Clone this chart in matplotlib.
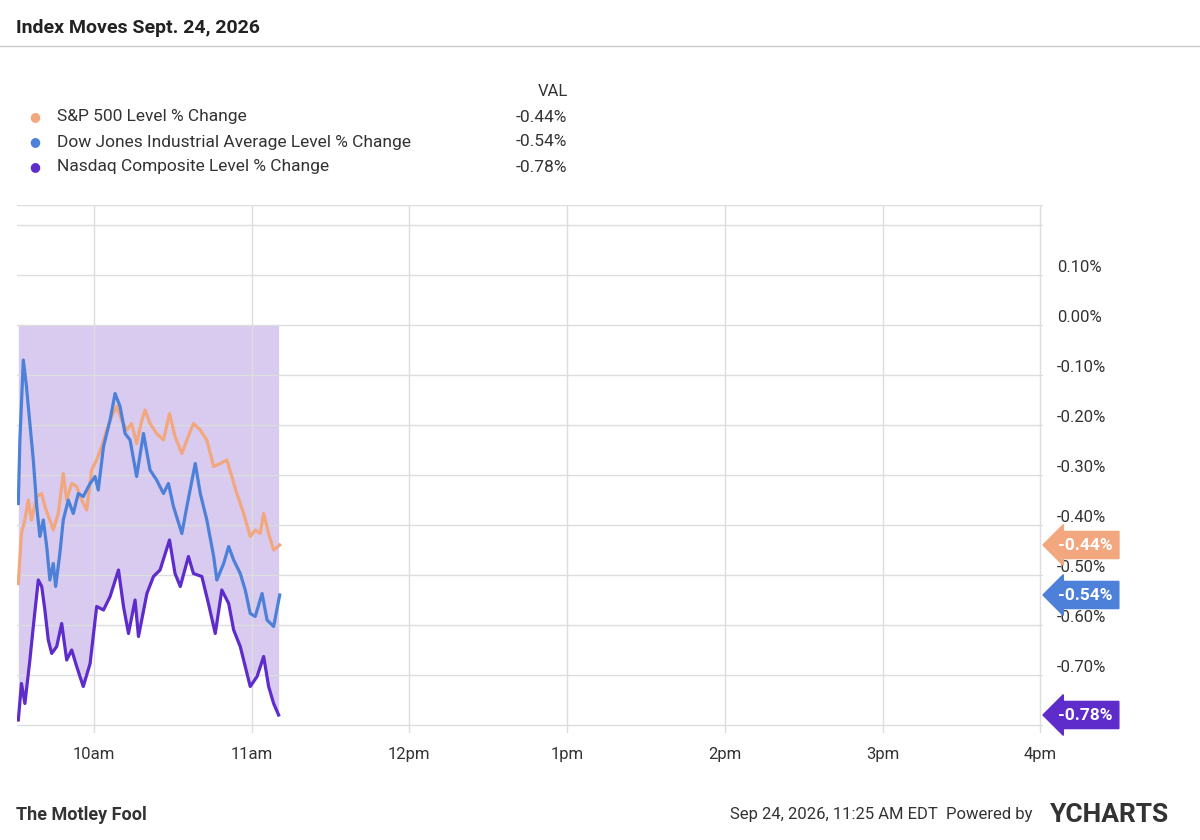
import matplotlib
matplotlib.use("Agg")
import matplotlib.pyplot as plt
import matplotlib.transforms as mtrans

plt.rcParams['font.family'] = ['Roboto', 'DejaVu Sans']

sp_t = [1.3,2.5,3.8,5.1,6.3,8.3,10.2,11.4,13.3,14.6,16.5,18.4,19.7,21.6,23.5,25.4,27.3,29.2,31.1,33.0,34.9,36.8,38.7,40.6,42.5,44.4,46.3,48.3,49.5,51.4,53.9,56.5,58.8,60.9,63.5,65.4,67.9,70.5,73.0,75.6,78.1,80.6,82.5,84.4,87.0,89.5,91.4,93.3,94.6,96.5,98.4,100.7]
sp_v = [-0.517,-0.417,-0.39,-0.35,-0.39,-0.343,-0.337,-0.363,-0.39,-0.41,-0.377,-0.297,-0.35,-0.317,-0.323,-0.35,-0.37,-0.29,-0.27,-0.243,-0.21,-0.183,-0.163,-0.19,-0.21,-0.197,-0.237,-0.19,-0.17,-0.197,-0.217,-0.23,-0.177,-0.223,-0.257,-0.23,-0.197,-0.21,-0.23,-0.283,-0.277,-0.27,-0.303,-0.337,-0.377,-0.423,-0.41,-0.417,-0.377,-0.417,-0.45,-0.44]
dow_t = [1.3,1.9,3.2,4.4,5.7,7.0,8.3,9.5,10.8,12.1,13.3,14.6,15.5,17.1,18.4,20.3,22.2,24.1,26.0,28.6,30.5,31.7,33.7,36.2,38.1,40.0,41.9,43.8,46.3,48.9,51.4,53.9,56.5,58.4,60.3,63.5,65.4,68.6,70.5,73.0,75.6,76.8,79.4,81.3,83.2,85.7,87.6,89.5,91.4,94.0,95.9,98.4,100.7]
dow_v = [-0.357,-0.23,-0.07,-0.123,-0.197,-0.27,-0.363,-0.423,-0.39,-0.443,-0.51,-0.477,-0.523,-0.457,-0.39,-0.35,-0.377,-0.337,-0.343,-0.317,-0.303,-0.33,-0.243,-0.19,-0.137,-0.163,-0.217,-0.23,-0.303,-0.217,-0.29,-0.31,-0.337,-0.317,-0.363,-0.417,-0.363,-0.277,-0.337,-0.39,-0.463,-0.51,-0.477,-0.443,-0.47,-0.497,-0.53,-0.577,-0.583,-0.537,-0.59,-0.603,-0.54]
nas_t = [1.3,2.5,3.8,5.7,7.0,8.9,10.2,11.4,12.7,14.0,15.9,17.8,19.7,21.6,23.5,26.0,28.6,31.1,33.7,36.2,39.4,41.3,43.2,45.7,47.0,50.2,52.7,55.2,58.8,60.9,62.9,66.0,67.9,71.1,73.6,76.2,78.7,81.3,83.2,85.7,89.5,92.1,94.6,96.5,98.4,100.3]
nas_v = [-0.79,-0.717,-0.757,-0.67,-0.603,-0.51,-0.523,-0.57,-0.63,-0.657,-0.643,-0.597,-0.67,-0.65,-0.683,-0.723,-0.677,-0.563,-0.57,-0.543,-0.49,-0.563,-0.617,-0.55,-0.623,-0.537,-0.503,-0.49,-0.43,-0.497,-0.523,-0.463,-0.497,-0.503,-0.557,-0.617,-0.53,-0.557,-0.61,-0.643,-0.723,-0.703,-0.663,-0.723,-0.757,-0.78]

names = ["S&P 500 Level % Change", "Dow Jones Industrial Average Level % Change", "Nasdaq Composite Level % Change"]
last_vals = ["-0.44%", "-0.54%", "-0.78%"]
last_nums = [-0.44, -0.54, -0.78]
colors = ["#f2a77f", "#4d80d8", "#5e2ccb"]
xtick_pos = [30, 90, 150, 210, 270, 330, 390]
xtick_lab = ["10am", "11am", "12pm", "1pm", "2pm", "3pm", "4pm"]
yticks = [0.1, 0.0, -0.1, -0.2, -0.3, -0.4, -0.5, -0.6, -0.7]

fig = plt.figure(figsize=(12, 8.4), dpi=100)
ax = fig.add_axes([17/1200, 1-733/840, (1043-17)/1200, (733-205)/840])
ax.set_xlim(0.8, 391)
ax.set_ylim(-0.816, 0.24)

ax.fill_between(nas_t, 0, nas_v, color="#d8cbef", lw=0, zorder=1)
ax.plot(sp_t, sp_v, color=colors[0], lw=2.3, zorder=3)
ax.plot(dow_t, dow_v, color=colors[1], lw=2.3, zorder=4)
ax.plot(nas_t, nas_v, color=colors[2], lw=2.3, zorder=5)

ax.set_xticks(xtick_pos)
ax.set_xticklabels(xtick_lab, fontsize=12, color="#333333")
ax.set_yticks([0.2] + yticks + [-0.8])
ax.set_yticklabels([""] + [f"{v:.2f}%" for v in yticks] + [""], fontsize=12, color="#333333")
ax.yaxis.tick_right()
ax.tick_params(length=0, pad=10)
off = mtrans.ScaledTranslation(0, 9/100, fig.dpi_scale_trans)
for lab in ax.get_yticklabels():
    lab.set_transform(lab.get_transform() + off)
ax.grid(True, color="#dddddd", lw=1, zorder=0)
for s in ["top", "left", "bottom", "right"]:
    ax.spines[s].set_visible(False)
ax.axhline(0.24, color="#dddddd", lw=1)

for v, lab, c in zip(last_nums, last_vals, colors):
    ax.annotate(lab, xy=(1.0, v), xycoords=("axes fraction", "data"), xytext=(11, 0),
                textcoords="offset points", va="center", ha="left", fontsize=12.5,
                color="white", fontweight="bold",
                bbox=dict(boxstyle="larrow,pad=0.35", fc=c, ec=c), annotation_clip=False)

fig.text(16/1200, 1-28/840, "Index Moves Sept. 24, 2026", fontsize=14, fontweight="bold", color="#222222", va="center")
fig.add_artist(plt.Line2D([0, 1], [1-46/840, 1-46/840], color="#cccccc", lw=1))
fig.text(538/1200, 1-92/840, "VAL", fontsize=12, color="#333333", va="center")
for i, (n, lv, c) in enumerate(zip(names, last_vals, colors)):
    y = 1 - (117 + 25*i)/840
    fig.text(35/1200, y, "●", fontsize=9, color=c, va="center", ha="center")
    fig.text(57/1200, y, n, fontsize=12.5, color="#333333", va="center")
    fig.text(516/1200, y, lv, fontsize=12.5, color="#333333", va="center")

fig.text(16/1200, 1-815/840, "The Motley Fool", fontsize=13, fontweight="bold", color="#333333", va="center")
fig.text(730/1200, 1-815/840, "Sep 24, 2026, 11:25 AM EDT  Powered by", fontsize=12, color="#333333", va="center")
fig.text(1050/1200, 1-815/840, "YCHARTS", fontsize=19, fontweight="bold", color="#333333", va="center")

fig.savefig("out.png", dpi=100)
